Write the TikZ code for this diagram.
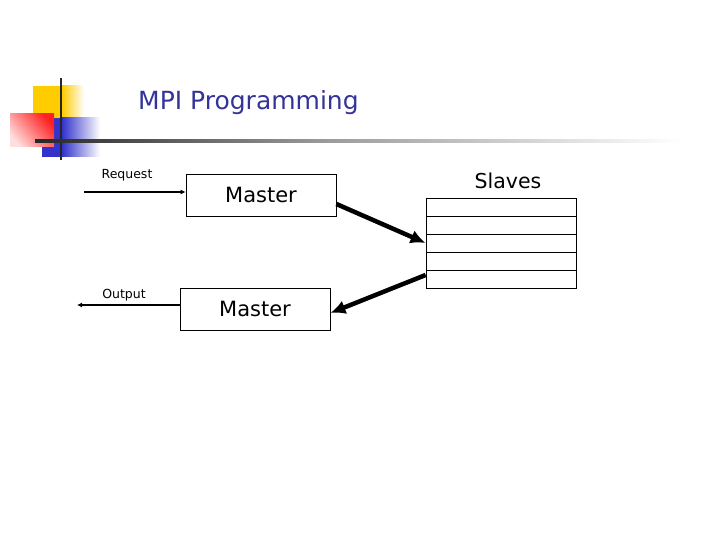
\documentclass[tikz,border=0pt]{standalone}
\usepackage{fontspec}
\setmainfont{DejaVu Sans}
\usetikzlibrary{arrows.meta}
\definecolor{titleblue}{HTML}{333399}
\definecolor{decoyellow}{HTML}{FFCC00}
\definecolor{decoblue}{HTML}{3333CC}
\definecolor{decored}{HTML}{FF2020}
\tikzset{
  box/.style={draw, line width=0.8pt, minimum width=150pt, minimum height=42pt, inner sep=0pt, font=\fontsize{21}{25}\selectfont},
  slot/.style={draw, line width=0.8pt, minimum width=150pt, minimum height=18pt, inner sep=0pt},
  small/.style={font=\fontsize{12.5}{15}\selectfont, inner sep=0pt},
  thin arrow/.style={line width=1.5pt, -{Latex[length=5pt,width=5pt]}},
  thick arrow/.style={line width=4.5pt, -{Latex[length=15pt,width=14pt]}}
}
\begin{document}
\begin{tikzpicture}[x=1pt,y=-1pt]
\useasboundingbox (0,0) rectangle (720,540);
% decoration
\fill[decoyellow] (33,86) rectangle (62,120);
\shade[left color=decoyellow, right color=white] (62,86) rectangle (84,120);
\fill[decoblue] (42,118) rectangle (62,157);
\shade[left color=decoblue, right color=white] (62,118) rectangle (100,157);
\shade[top color=decored, bottom color=white!85!decored, shading angle=-50] (10,114) rectangle (54,147);
\draw[line width=2.2pt, black!85] (61,78) -- (61,160);
\shade[left color=black!85, right color=black!40] (35,139.5) rectangle (320,142.5);
\shade[left color=black!40, right color=white] (320,139.5) rectangle (680,142.5);
% title
\node[text=titleblue, font=\fontsize{25}{30}\selectfont, anchor=west, inner sep=0pt] (title) at (138,103) {MPI Programming};
% masters
\node[box] (m1) at (261,195) {Master};
\node[box] (m2) at (255,309) {Master};
% slaves
\node[slot] (s1) at (501,207) {};
\node[slot] (s2) at (501,225) {};
\node[slot] (s3) at (501,243) {};
\node[slot] (s4) at (501,261) {};
\node[slot] (s5) at (501,279) {};
\node[font=\fontsize{20.5}{24}\selectfont] (slaves) at (508,181) {Slaves};
% request / output
\coordinate (rin) at (84,192);
\coordinate (rout) at (77,305);
\draw[thin arrow] (rin) -- (m1.west |- rin);
\node[small] (req) at (127,175) {Request};
\draw[thin arrow] (m2.west |- rout) -- (rout);
\node[small] (out) at (124,295) {Output};
% thick arrows
\draw[thick arrow] ([yshift=-9pt]m1.east) -- (s3.west);
\draw[thick arrow] ([yshift=4pt]s5.west) -- ([yshift=-4pt]m2.east);
\end{tikzpicture}
\end{document}
